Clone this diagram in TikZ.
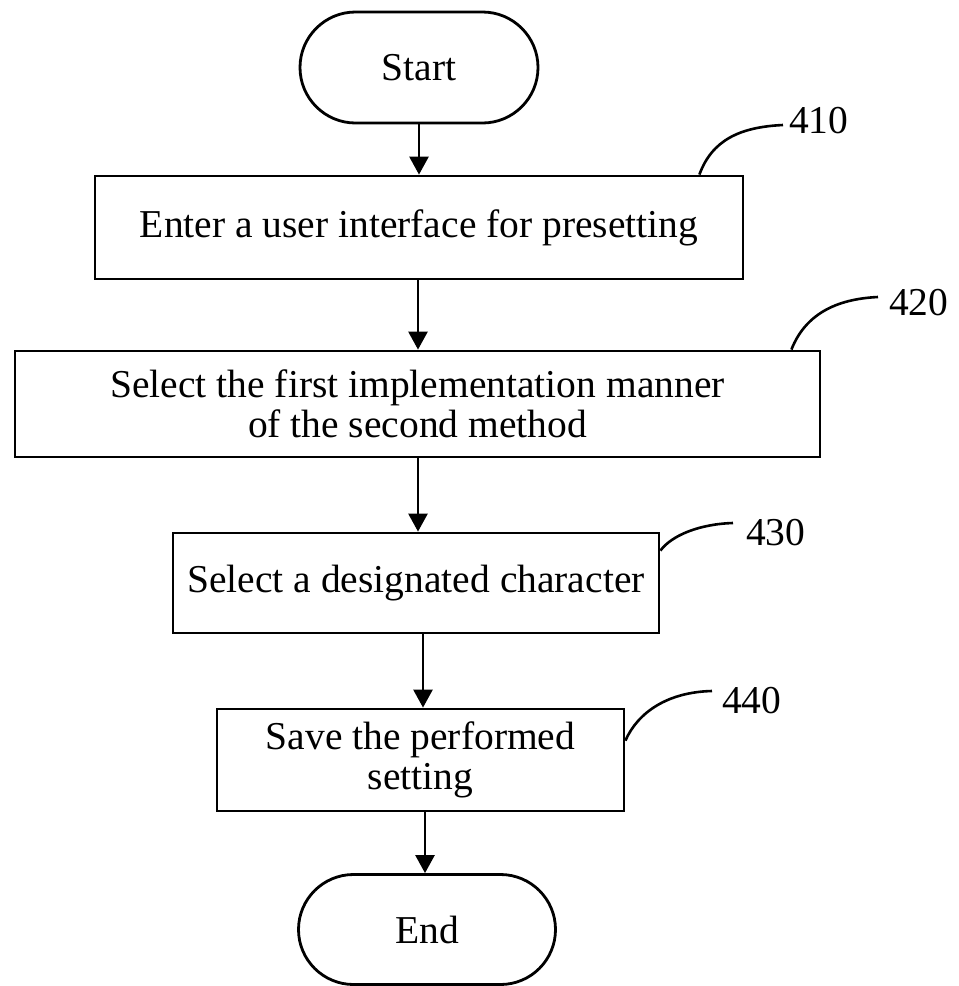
\documentclass[tikz,border=0pt]{standalone}
\usepackage{fontspec}
\setmainfont{Liberation Serif}
\usetikzlibrary{shapes.misc,arrows.meta}
\begin{document}
\begin{tikzpicture}[x=1pt,y=-1pt,
  every node/.style={font=\fontsize{39.5}{40}\selectfont},
  procbox/.style={draw,line width=2.8pt,rectangle,align=center,inner sep=0pt},
  term/.style={draw,line width=2.8pt,rounded rectangle,inner sep=0pt},
  flow/.style={line width=2.6pt,-{Triangle[width=19pt,length=18pt]}},
  lead/.style={line width=2.6pt},
  numlbl/.style={anchor=west,inner sep=0pt}]
\useasboundingbox (0,0) rectangle (959,986);

\node[term,minimum width=238pt,minimum height=111pt] (start) at (419,67.5) {Start};
\node[procbox,minimum width=648pt,minimum height=103pt] (b410) at (419,227.5) {Enter a user interface for presetting};
\node[procbox,minimum width=805pt,minimum height=106pt] (b420) at (417.5,404) {Select the first implementation manner\\of the second method};
\node[procbox,minimum width=486pt,minimum height=100pt] (b430) at (416,583) {Select a designated character};
\node[procbox,minimum width=407pt,minimum height=102pt] (b440) at (420.5,760) {Save the performed\\setting};
\node[term,minimum width=257pt,minimum height=110pt] (end) at (427,929.5) {End};

\draw[flow] (start.south) -- (start.south |- b410.north);
\draw[flow] ([xshift=-1pt]b410.south) -- ([xshift=-1pt]b410.south |- b420.north);
\draw[flow] ([xshift=0.5pt]b420.south) -- ([xshift=0.5pt]b420.south |- b430.north);
\draw[flow] ([xshift=7pt]b430.south) -- ([xshift=7pt]b430.south |- b440.north);
\draw[flow] ([xshift=4.5pt]b440.south) -- ([xshift=4.5pt]b440.south |- end.north);

\node[numlbl] (n410) at (789,121) {410};
\node[numlbl] (n420) at (889,303) {420};
\node[numlbl] (n430) at (746,533) {430};
\node[numlbl] (n440) at (722,701) {440};

\coordinate (a410) at ([xshift=-45pt]b410.north east);
\coordinate (a420) at ([xshift=-30pt]b420.north east);
\coordinate (a430) at ([yshift=-19pt]b430.north east);
\coordinate (a440) at ([yshift=-33pt]b440.north east);
\coordinate (e410) at (783,125);
\coordinate (e420) at (878,297);
\coordinate (e430) at (733,523);
\coordinate (e440) at (712,691);

\draw[lead] (a410) .. controls (712,140) and (740,127) .. (e410);
\draw[lead] (a420) .. controls (805,315) and (835,299) .. (e420);
\draw[lead] (a430) .. controls (672,535) and (700,524) .. (e430);
\draw[lead] (a440) .. controls (638,712) and (668,692) .. (e440);
\end{tikzpicture}
\end{document}
